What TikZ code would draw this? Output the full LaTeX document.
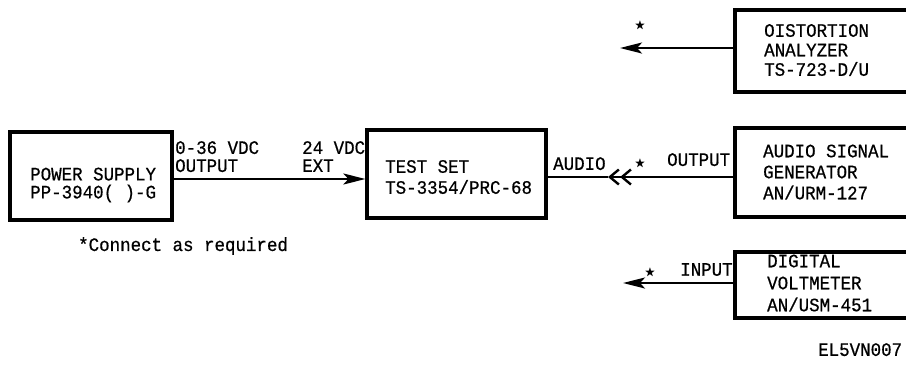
\documentclass[tikz,border=0pt]{standalone}
\usepackage{amssymb}
\usepackage{fontspec}
\newfontfamily\lettering{Liberation Mono}[FakeStretch=0.92,FakeBold=0.6]
\usetikzlibrary{arrows.meta}

\tikzset{
  unit/.style={draw, line width=3.2pt, inner sep=0pt},
  txt/.style={font=\lettering\fontsize{19}{21}\selectfont, align=left, inner sep=0pt},
  tight/.style={font=\lettering\fontsize{19}{18}\selectfont},
  wire/.style={line width=2.4pt},
  tip/.style={-{Stealth[length=22pt,width=11pt,inset=5pt]}},
  plugtip/.style={-{Straight Barb[length=9pt,width=15pt,line width=2.4pt]Straight Barb[length=9pt,width=15pt,line width=2.4pt,sep=0pt]}},
  starmark/.style={font=\fontsize{11}{11}\selectfont, inner sep=0pt},
}

\begin{document}
\begin{tikzpicture}[x=1pt,y=-1pt]
\useasboundingbox (0,0) rectangle (906,376);

% boxes
\node[unit, minimum width=162, minimum height=88] (ps) at (91,176) {};
\node[unit, minimum width=179, minimum height=88] (test) at (456.5,174) {};
\node[unit, minimum width=180, minimum height=82] (dist) at (825,51) {};
\node[unit, minimum width=180, minimum height=89] (gen) at (825,172.5) {};
\node[unit, minimum width=180, minimum height=66] (volt) at (825,285) {};

% box texts
\node[txt, tight, anchor=west] (pstext) at (30,185) {POWER SUPPLY\\PP-3940( )-G};
\node[txt, anchor=west] (testtext) at (385,177) {TEST SET\\TS-3354/PRC-68};
\node[txt, font=\lettering\fontsize{19}{19.5}\selectfont, anchor=west] (disttext) at (764,50) {OISTORTION\\ANALYZER\\TS-723-D/U};
\node[txt, anchor=west] (gentext) at (763,172) {AUDIO SIGNAL\\GENERATOR\\AN/URM-127};
\node[txt, font=\lettering\fontsize{19}{22}\selectfont, anchor=west] (volttext) at (767,283) {DIGITAL\\VOLTMETER\\AN/USM-451};

% connectors
\coordinate (plug) at (608,177);
\coordinate (distout) at (620,48);
\coordinate (voltout) at (623,283);
\draw[wire, tip] ([yshift=-3pt]ps.east) -- ([yshift=-3pt]ps.east -| test.west);
\draw[wire] ([yshift=-3pt]test.east) -- (plug);
\draw[wire, plugtip] ([yshift=-3pt]test.east -| gen.west) -- (plug);
\draw[wire, tip] ([yshift=3pt]dist.west) -- (distout);
\draw[wire, tip] ([yshift=2pt]volt.west) -- (voltout);

% labels
\node[txt, tight, anchor=north west] (psout) at (175,141) {0-36 VDC\\OUTPUT};
\node[txt, tight, anchor=north west] (testin) at (302,141) {24 VDC\\EXT};
\node[txt, anchor=north west] (audio) at (553,157) {AUDIO};
\node[txt, anchor=north west] (genout) at (667,153) {OUTPUT};
\node[txt, anchor=north west] (voltin) at (680,263) {INPUT};
\node[starmark] (star1) at (640,26) {$\bigstar$};
\node[starmark] (star2) at (640,164) {$\bigstar$};
\node[starmark] (star3) at (650,273) {$\bigstar$};
\node[txt, anchor=north west] (note) at (78,237) {*Connect as required};
\node[txt, anchor=north west] (figid) at (818,343) {EL5VN007};
\end{tikzpicture}
\end{document}
